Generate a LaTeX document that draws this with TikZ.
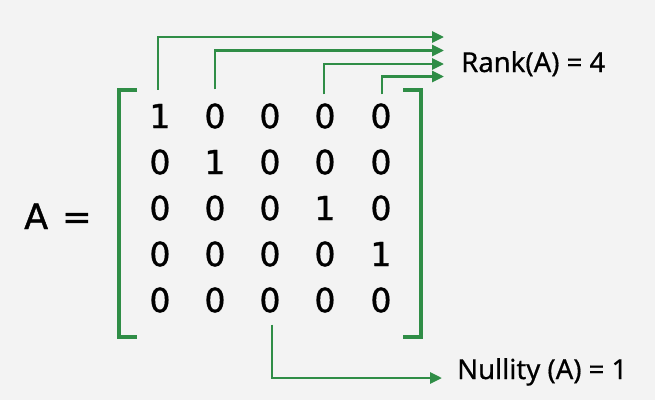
\documentclass[tikz,border=0pt]{standalone}
\usepackage{fontspec}
\setmainfont{Noto Sans}[FakeBold=0.6]
\newfontfamily\matfont{DejaVu Sans}[FakeBold=1.2]
\usetikzlibrary{arrows.meta}
\definecolor{bg}{HTML}{F3F3F3}
\definecolor{gfg}{HTML}{2F8D46}
\begin{document}
\begin{tikzpicture}[x=1pt,y=-1pt,
  digit/.style={inner sep=0pt,font=\matfont\fontsize{33}{33}\selectfont,text=black},
  lbl/.style={inner sep=0pt,anchor=base west,font=\fontsize{27.5}{27.5}\selectfont,text=black},
  brk/.style={draw=gfg,line width=4pt},
  arr/.style={draw=gfg,line width=2.8pt,-{Triangle[length=12pt,width=11pt]}}]
\fill[bg] (0,0) rectangle (655,400);
\useasboundingbox (0,0) rectangle (655,400);
% matrix entries
\foreach \r/\y/\a/\b/\c/\d/\e in {1/116/1/0/0/0/0,2/162/0/1/0/0/0,3/208/0/0/0/1/0,4/254/0/0/0/0/1,5/300/0/0/0/0/0}{
  \node[digit] (m\r1) at (160,\y) {\a};
  \node[digit] (m\r2) at (215,\y) {\b};
  \node[digit] (m\r3) at (270,\y) {\c};
  \node[digit] (m\r4) at (325,\y) {\d};
  \node[digit] (m\r5) at (381,\y) {\e};
}
\node[inner sep=0pt,anchor=base west,font=\matfont\fontsize{35}{35}\selectfont] (A) at (24,229) {A};
\node[inner sep=0pt,anchor=base west,font=\matfont\fontsize{35}{35}\selectfont] (eq) at (62,229) {=};
% brackets
\draw[brk] (137,90) -- (119,90) -- (119,337) -- (137,337);
\draw[brk] (403,90) -- (421,90) -- (421,337) -- (403,337);
% labels
\node[lbl] (rank) at (461,72) {Rank(A) = 4};
\node[lbl] (null) at (457,379) {Nullity (A) = 1};
% arrow targets
\coordinate (t1) at (444,37);
\coordinate (t2) at (444,50.5);
\coordinate (t3) at (444,64);
\coordinate (t4) at (444,76.5);
\coordinate (tn) at (442,378);
% rank arrows
\draw[arr] ([xshift=-2pt,yshift=14pt]m11.north) |- (t1);
\draw[arr] ([yshift=14pt]m12.north) |- (t2);
\draw[arr] ([xshift=-1pt,yshift=9pt]m14.north) |- (t3);
\draw[arr] ([xshift=1pt,yshift=9pt]m15.north) |- (t4);
% nullity arrow
\draw[arr] ([xshift=2pt,yshift=-12pt]m53.south) |- (tn);
\end{tikzpicture}
\end{document}
